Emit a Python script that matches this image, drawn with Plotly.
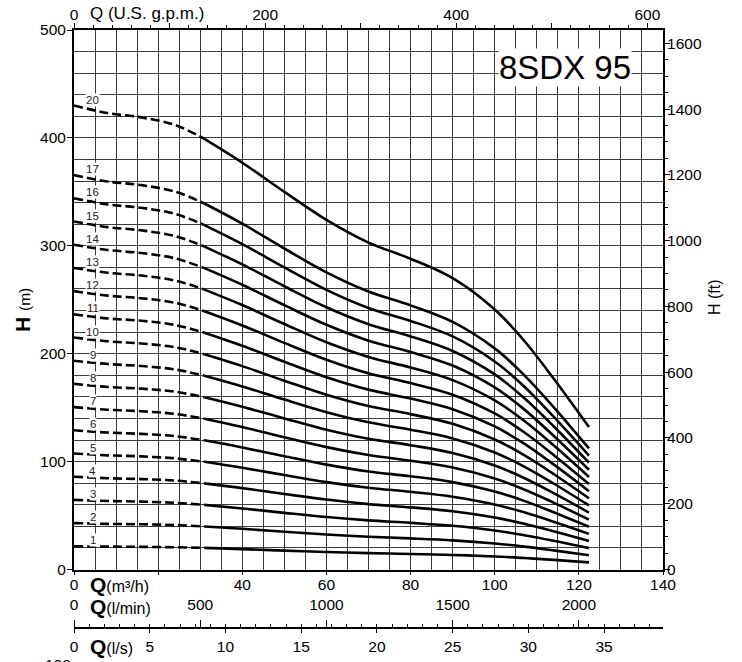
import plotly.graph_objects as go

# ---- data ----
q_m3h = [0, 8, 16, 24, 31, 40, 50, 60, 70, 80, 90, 100, 107, 114, 122.4]
dash_end = 31  # flow where the dashed part ends

h_1 = [21.5, 21.2, 21.0, 20.6, 20.0, 18.9, 17.5, 16.2, 15.2, 14.4, 13.5, 12.1, 10.6, 8.9, 6.6]
h_2 = [43.0, 42.3, 41.9, 41.2, 39.9, 37.7, 35.0, 32.4, 30.3, 28.8, 27.0, 24.1, 21.2, 17.7, 13.2]
h_3 = [64.5, 63.5, 62.9, 61.8, 59.9, 56.6, 52.5, 48.6, 45.5, 43.2, 40.5, 36.2, 31.8, 26.6, 19.8]
h_4 = [86.0, 84.6, 83.8, 82.4, 79.8, 75.4, 70.0, 64.8, 60.6, 57.6, 54.0, 48.2, 42.4, 35.4, 26.4]
h_5 = [107.5, 105.8, 104.8, 103.0, 99.8, 94.3, 87.5, 81.0, 75.8, 72.0, 67.5, 60.3, 53.0, 44.3, 33.0]
h_6 = [129.0, 126.9, 125.7, 123.6, 119.7, 113.1, 105.0, 97.2, 90.9, 86.4, 81.0, 72.3, 63.6, 53.1, 39.6]
h_7 = [150.5, 148.1, 146.7, 144.2, 139.7, 132.0, 122.5, 113.4, 106.1, 100.8, 94.5, 84.4, 74.2, 62.0, 46.2]
h_8 = [172.0, 169.2, 167.6, 164.8, 159.6, 150.8, 140.0, 129.6, 121.2, 115.2, 108.0, 96.4, 84.8, 70.8, 52.8]
h_9 = [193.5, 190.4, 188.6, 185.4, 179.6, 169.7, 157.5, 145.8, 136.4, 129.6, 121.5, 108.5, 95.4, 79.7, 59.4]
h_10 = [215.0, 211.5, 209.5, 206.0, 199.5, 188.5, 175.0, 162.0, 151.5, 144.0, 135.0, 120.5, 106.0, 88.5, 66.0]
h_11 = [236.5, 232.7, 230.5, 226.6, 219.5, 207.4, 192.5, 178.2, 166.7, 158.4, 148.5, 132.6, 116.6, 97.4, 72.6]
h_12 = [258.0, 253.8, 251.4, 247.2, 239.4, 226.2, 210.0, 194.4, 181.8, 172.8, 162.0, 144.6, 127.2, 106.2, 79.2]
h_13 = [279.5, 275.0, 272.4, 267.8, 259.4, 245.1, 227.5, 210.6, 197.0, 187.2, 175.5, 156.7, 137.8, 115.1, 85.8]
h_14 = [301.0, 296.1, 293.3, 288.4, 279.3, 263.9, 245.0, 226.8, 212.1, 201.6, 189.0, 168.7, 148.4, 123.9, 92.4]
h_15 = [322.5, 317.3, 314.3, 309.0, 299.3, 282.8, 262.5, 243.0, 227.3, 216.0, 202.5, 180.8, 159.0, 132.8, 99.0]
h_16 = [344.0, 338.4, 335.2, 329.6, 319.2, 301.6, 280.0, 259.2, 242.4, 230.4, 216.0, 192.8, 169.6, 141.6, 105.6]
h_17 = [365.5, 359.6, 356.2, 350.2, 339.2, 320.5, 297.5, 275.4, 257.6, 244.8, 229.5, 204.9, 180.2, 150.5, 112.2]
h_20 = [430.0, 423.0, 419.0, 412.0, 399.0, 377.0, 350.0, 324.0, 303.0, 288.0, 270.0, 241.0, 212.0, 177.0, 132.0]

stage_names = ["1", "2", "3", "4", "5", "6", "7", "8", "9", "10",
               "11", "12", "13", "14", "15", "16", "17", "20"]
curves = [h_1, h_2, h_3, h_4, h_5, h_6, h_7, h_8, h_9, h_10,
          h_11, h_12, h_13, h_14, h_15, h_16, h_17, h_20]

# axis tick labels
m3h_ticks = [0, 20, 40, 60, 80, 100, 120, 140]
m3h_text = ["0", "", "40", "60", "80", "100", "120", "140"]
lmin_ticks = [0, 500, 1000, 1500, 2000]
ls_ticks = [0, 5, 10, 15, 20, 25, 30, 35]
gpm_ticks = [0, 100, 200, 300, 400, 500, 600]
gpm_text = ["0", "", "200", "", "400", "", "600"]
hm_ticks = [0, 100, 200, 300, 400, 500]
hft_ticks = [0, 200, 400, 600, 800, 1000, 1200, 1400, 1600]

# unit conversions
Q_MAX = 140.0
H_MAX = 500.0
GPM_PER_M3H = 4.40287
LMIN_PER_M3H = 1000.0 / 60.0
LS_PER_M3H = 1.0 / 3.6
FT_PER_M = 3.28084

FONT = "Liberation Sans, Arial, sans-serif"
GRID = "#3c3c3c"

fig = go.Figure()

for name, h in zip(stage_names, curves):
    qd = [q for q in q_m3h if q <= dash_end]
    hd = h[:len(qd)]
    qs = [q for q in q_m3h if q >= dash_end]
    hs = h[len(qd) - 1:]
    fig.add_trace(go.Scatter(x=qd, y=hd, mode="lines",
                             line=dict(color="black", width=2.6, dash="9px,4px", shape="spline"),
                             hoverinfo="skip", showlegend=False))
    fig.add_trace(go.Scatter(x=qs, y=hs, mode="lines",
                             line=dict(color="black", width=2.6, shape="spline"),
                             hoverinfo="skip", showlegend=False))
    fig.add_annotation(x=4.5, y=h[0] + 5.5, xref="x", yref="y", text=name,
                       showarrow=False, font=dict(family=FONT, size=11.5, color="#222"),
                       bgcolor="white", borderpad=0)

# dummy traces to register the secondary axes
for xa, ya in [("x2", "y"), ("x3", "y"), ("x4", "y"), ("x", "y2")]:
    fig.add_trace(go.Scatter(x=[None], y=[None], xaxis=xa, yaxis=ya,
                             hoverinfo="skip", showlegend=False))

# geometry (page pixels, body margin removed)
W, H = 742, 662
PLOT_L, PLOT_R, PLOT_T, PLOT_B = 74, 663, 30, 569.5
ML = PLOT_L
MR = W - PLOT_R
MT = PLOT_T
MB = 12
paper_h = H - MT - MB
plot_w = PLOT_R - PLOT_L

def px_x(px):
    return (px - PLOT_L) / plot_w

def px_y(py):
    return (H - MB - py) / paper_h

dom_bottom = px_y(PLOT_B)
ls_pos = px_y(628)

tickfont = dict(family=FONT, size=15.5, color="black")

fig.update_layout(
    width=W, height=H,
    margin=dict(l=ML, r=MR, t=MT, b=MB, autoexpand=False),
    plot_bgcolor="white", paper_bgcolor="white",
    showlegend=False,
    xaxis=dict(range=[0, Q_MAX], domain=[0, 1], anchor="y", automargin=False,
               tickvals=m3h_ticks, ticktext=m3h_text, ticks="outside", ticklen=3,
               tickcolor="black", tickfont=tickfont, ticklabelstandoff=-3,
               showgrid=True, gridcolor=GRID, gridwidth=1,
               minor=dict(dtick=5, showgrid=True, gridcolor=GRID, gridwidth=1, ticks=""),
               showline=True, linecolor="black", linewidth=2, zeroline=False),
    yaxis=dict(range=[0, H_MAX], domain=[dom_bottom, 1], anchor="x", automargin=False,
               tickvals=hm_ticks, ticks="outside", ticklen=5, tickcolor="black",
               tickfont=tickfont, ticklabelstandoff=-2,
               showgrid=True, gridcolor=GRID, gridwidth=1,
               minor=dict(dtick=20, showgrid=True, gridcolor=GRID, gridwidth=1, ticks=""),
               showline=True, linecolor="black", linewidth=2, zeroline=False),
    yaxis2=dict(range=[0, H_MAX * FT_PER_M], overlaying="y", side="right", anchor="x",
                automargin=False,
                tickvals=hft_ticks, ticks="outside", ticklen=5, tickcolor="black",
                tickfont=tickfont, ticklabelstandoff=-6, showgrid=False, zeroline=False,
                minor=dict(dtick=50, ticks="outside", ticklen=3, tickcolor="black"),
                showline=True, linecolor="black", linewidth=2),
    # top: U.S. gpm
    xaxis2=dict(range=[0, Q_MAX * GPM_PER_M3H], overlaying="x", side="top", anchor="y",
                automargin=False,
                tickvals=gpm_ticks, ticktext=gpm_text, ticks="outside", ticklen=5,
                tickcolor="black", tickfont=tickfont, ticklabelstandoff=-3,
                showgrid=False, zeroline=False,
                minor=dict(dtick=20, ticks="outside", ticklen=3, tickcolor="black"),
                showline=True, linecolor="black", linewidth=2),
    # l/s axis below the chart
    xaxis3=dict(range=[0, Q_MAX * LS_PER_M3H], overlaying="x", side="bottom",
                anchor="free", position=ls_pos, automargin=False,
                tickvals=ls_ticks, ticks="outside", ticklen=4, tickcolor="black",
                tickfont=tickfont, showgrid=False, zeroline=False,
                minor=dict(dtick=1, ticks="inside", ticklen=3, tickcolor="black"),
                showline=True, linecolor="black", linewidth=2),
    # l/min labels above the l/s line
    xaxis4=dict(range=[0, Q_MAX * LMIN_PER_M3H], overlaying="x", side="top",
                anchor="free", position=ls_pos, automargin=False,
                tickvals=lmin_ticks, ticks="outside", ticklen=8, tickcolor="black",
                tickfont=tickfont, showgrid=False, zeroline=False, showline=False,
                ticklabelstandoff=4),
)

ann_font = dict(family=FONT, color="black")
fig.add_annotation(x=px_x(88), y=px_y(14), xref="paper", yref="paper", xanchor="left",
                   yanchor="middle", showarrow=False, text="Q (U.S. g.p.m.)",
                   font=dict(ann_font, size=17))
for ypx, unit in [(584, "(m³/h)"), (606, "(l/min)"), (646, "(l/s)")]:
    fig.add_annotation(x=px_x(88), y=px_y(ypx), xref="paper", yref="paper", xanchor="left",
                       yanchor="middle", showarrow=False,
                       text="<b>Q</b><span style='font-size:16px'>" + unit + "</span>",
                       font=dict(ann_font, size=21))
fig.add_annotation(x=px_x(22), y=px_y(310), xref="paper", yref="paper", textangle=-90,
                   xanchor="center", yanchor="middle", showarrow=False,
                   text="<b>H</b> <span style='font-size:15.5px'>(m)</span>",
                   font=dict(ann_font, size=21))
fig.add_annotation(x=px_x(714), y=px_y(297), xref="paper", yref="paper", textangle=-90,
                   xanchor="center", yanchor="middle", showarrow=False,
                   text="H (ft)", font=dict(ann_font, size=16))
fig.add_annotation(x=116.7, y=465, xref="x", yref="y", showarrow=False, text="8SDX 95",
                   font=dict(ann_font, size=33), bgcolor="white", borderpad=0)
fig.add_annotation(x=px_x(58), y=px_y(654), xref="paper", yref="paper",
                   xanchor="center", yanchor="top",
                   showarrow=False, text="100", font=dict(ann_font, size=15.5))

fig.write_html("out.html", config={"displayModeBar": False},
               post_script="document.body.style.margin='0px';document.body.style.overflow='hidden';")
